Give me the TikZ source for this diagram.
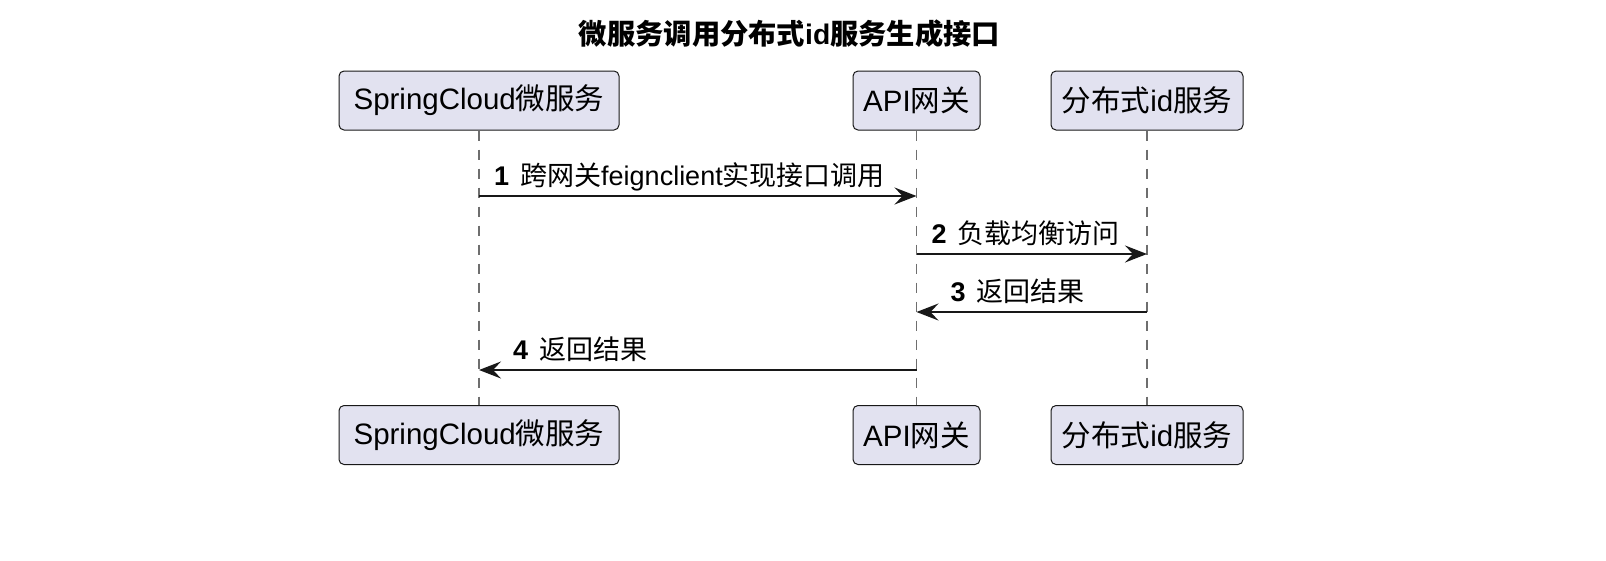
\documentclass[tikz,border=0pt]{standalone}
\usepackage{fontspec}
\setmainfont{Liberation Sans}
\newfontfamily\cjk{Noto Sans CJK SC}
\usetikzlibrary{arrows.meta}
\newcommand\zh[1]{{\cjk #1}}
\definecolor{pbox}{HTML}{E2E2F0}
\definecolor{pline}{HTML}{181818}
\definecolor{lgray}{HTML}{6E6E6E}
\begin{document}
\begin{tikzpicture}[x=1pt,y=-1pt,
  participant/.style={rectangle, rounded corners=5pt, fill=pbox, draw=pline,
    line width=1pt, minimum height=59pt, inner sep=0pt,
    font=\fontsize{29.5}{34}\selectfont},
  lifeline/.style={draw=lgray, line width=1.2pt, dash pattern=on 10pt off 9pt},
  msg/.style={draw=pline, line width=2pt, -{Stealth[length=22pt,width=17pt,inset=8pt]}},
  msglabel/.style={anchor=base west, inner sep=0pt, font=\fontsize{27}{30}\selectfont},
  titlestyle/.style={font=\fontsize{28.3}{34}\selectfont\bfseries, inner sep=0pt}]
\useasboundingbox (0,0) rectangle (1606,560);
\node[titlestyle] (title) at (789.5,34) {\zh{微服务调用分布式}id\zh{服务生成接口}};
% participants top
\node[participant, minimum width=280pt] (a1) at (479,100.5) {SpringCloud\zh{微服务}};
\node[participant, minimum width=127pt] (b1) at (916.5,100.5) {API\zh{网关}};
\node[participant, minimum width=192pt] (c1) at (1147,100.5) {\zh{分布式}id\zh{服务}};
% participants bottom
\node[participant, minimum width=280pt] (a2) at (479,435) {SpringCloud\zh{微服务}};
\node[participant, minimum width=127pt] (b2) at (916.5,435) {API\zh{网关}};
\node[participant, minimum width=192pt] (c2) at (1147,435) {\zh{分布式}id\zh{服务}};
% lifelines
\draw[lifeline] (a1.south) -- (a2.north);
\draw[lifeline] (b1.south) -- (b2.north);
\draw[lifeline] (c1.south) -- (c2.north);
% messages
\draw[msg] (a1 |- 0,196) -- (b1 |- 0,196);
\node[msglabel] (l1) at (494,185) {\textbf{1}\hspace{11pt}\zh{跨网关}feignclient\zh{实现接口调用}};
\draw[msg] (b1 |- 0,254) -- (c1 |- 0,254);
\node[msglabel] (l2) at (931.5,243) {\textbf{2}\hspace{11pt}\zh{负载均衡访问}};
\draw[msg] (c1 |- 0,312) -- (b1 |- 0,312);
\node[msglabel] (l3) at (950.5,301) {\textbf{3}\hspace{11pt}\zh{返回结果}};
\draw[msg] (b1 |- 0,370) -- (a1 |- 0,370);
\node[msglabel] (l4) at (513,359) {\textbf{4}\hspace{11pt}\zh{返回结果}};
\end{tikzpicture}
\end{document}
